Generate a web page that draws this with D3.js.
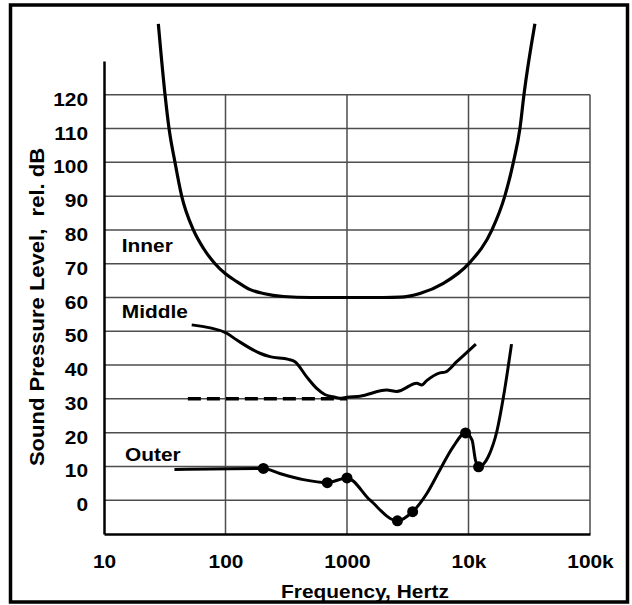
<!DOCTYPE html>
<html>
  <script src="https://d3js.org/d3.v7.min.js" type="text/JavaScript"></script>
  <style>
    body { margin: 0; background: #fff; }
    text { font-family: "Liberation Sans", Arial, sans-serif; font-weight: bold; fill: #000; }
  </style>
  <body>
    <svg></svg>
    <script>
// tick values and labels
var xTicks = [10, 100, 1000, 10000, 100000];
var xTickLabels = ['10', '100', '1000', '10k', '100k'];
var yTicks = [0, 10, 20, 30, 40, 50, 60, 70, 80, 90, 100, 110, 120];
var xGrid = [100, 1000, 10000, 100000];

// curves, [frequency Hz, level dB]
var innerCurve = [[28, 141], [31.8, 120], [34.3, 110], [38.4, 100], [43.6, 90], [54.4, 80],
  [66, 74.5], [82, 70], [100, 67], [124, 64.7], [158, 62.4], [205, 61.2], [300, 60.3],
  [500, 60], [1000, 60], [2000, 60], [2730, 60.1], [3980, 61.2], [6210, 64.2], [10100, 70.1],
  [15600, 80], [19900, 90], [23400, 100], [26500, 110], [28600, 120], [35200, 141]];

var middleCurve = [[52.7, 51.9], [100, 49.6], [124, 47.4], [192, 43.5], [232, 42.5], [330, 41.7],
  [373, 41], [466, 36.5], [563, 33.1], [656, 31.3], [770, 30.6], [875, 30.2], [1000, 30.5],
  [1280, 30.8], [2120, 32.6], [2570, 32.2], [3750, 34.6], [4120, 34.1], [4530, 35.4],
  [5820, 37.7], [6400, 37.9], [8000, 41], [11500, 46.2]];

var middleDashed = [[49, 30], [1000, 30]];

var outerCurve = [[38, 9.1], [205, 9.4], [280, 7.9], [437, 6.1], [688, 5.2], [1000, 6.6],
  [1550, 0], [2600, -6.1], [3470, -3.4], [4540, 2], [5800, 8.9], [7470, 15.8], [9460, 19.9],
  [10700, 17.8], [11400, 11.9], [12100, 9.9], [14500, 12.8], [17200, 20.7], [19400, 30.6],
  [22600, 46.2]];

var outerPoints = [[205, 9.4], [688, 5.2], [1000, 6.6], [2600, -6.1], [3470, -3.4], [9460, 19.9], [12100, 9.9]];

var curveLabels = [['Inner', 14, 73.5], ['Middle', 14, 53.8], ['Outer', 14.9, 11.6]];

var SX = 1.13; // glyphs in the picture are a bit wide

var svg = d3.select('svg').attr('width', 632).attr('height', 605);

var x = d3.scaleLog().domain([10, 100000]).range([104, 590]);
var y = d3.scaleLinear().domain([-10, 130]).range([534, 61]);

svg.append('rect')
  .attr('x', 10.5).attr('y', 5)
  .attr('width', 617).attr('height', 597)
  .style('fill', 'none').style('stroke', '#000').style('stroke-width', 3.5);

// grid
svg.append('g').selectAll('line').data(yTicks).enter().append('line')
  .attr('x1', x(10)).attr('x2', x(100000))
  .attr('y1', d => y(d)).attr('y2', d => y(d))
  .style('stroke', '#4d4d4d').style('stroke-width', 1.5);

svg.append('g').selectAll('line').data(xGrid).enter().append('line')
  .attr('x1', d => x(d)).attr('x2', d => x(d))
  .attr('y1', y(120)).attr('y2', y(-10))
  .style('stroke', '#4d4d4d').style('stroke-width', 1.5);

// axes
var xAxis = svg.append('g')
  .attr('transform', `translate(0, ${y(-10)})`)
  .call(d3.axisBottom(x).tickValues(xTicks).tickFormat((d, i) => xTickLabels[i]).tickSize(0).tickSizeOuter(0));

var yAxis = svg.append('g')
  .attr('transform', `translate(${x(10)}, 0)`)
  .call(d3.axisLeft(y).tickValues(yTicks).tickSize(0).tickSizeOuter(0));

[xAxis, yAxis].forEach(a => {
  a.select('.domain').style('stroke', '#000').style('stroke-width', 2.5);
  a.selectAll('text').style('font-size', '18.5px').style('font-family', null);
});

xAxis.selectAll('.tick text')
  .attr('y', 34.5).attr('dy', null)
  .attr('transform', `scale(${SX},1)`);

yAxis.selectAll('.tick text')
  .attr('x', -16 / SX).attr('dy', 10.5)
  .attr('transform', `scale(${SX},1)`);

// titles
svg.append('text')
  .attr('transform', `translate(365, 597.5) scale(${SX},1)`)
  .attr('text-anchor', 'middle')
  .style('font-size', '18.5px')
  .text('Frequency, Hertz');

svg.append('text')
  .attr('transform', `translate(43.5, 307) rotate(-90) scale(${SX},1)`)
  .attr('text-anchor', 'middle')
  .style('font-size', '19.5px')
  .style('white-space', 'pre')
  .text('Sound Pressure Level,  rel. dB');

// curves
var line = d3.line().x(d => x(d[0])).y(d => y(d[1])).curve(d3.curveMonotoneX);

svg.append('path').datum(innerCurve).attr('d', line)
  .style('fill', 'none').style('stroke', '#000').style('stroke-width', 3.2);

svg.append('path').datum(middleCurve).attr('d', line)
  .style('fill', 'none').style('stroke', '#000').style('stroke-width', 3);

svg.append('path').datum(middleDashed).attr('d', line)
  .style('fill', 'none').style('stroke', '#000').style('stroke-width', 3.5)
  .style('stroke-dasharray', '13,6');

svg.append('path').datum(outerCurve).attr('d', line)
  .style('fill', 'none').style('stroke', '#000').style('stroke-width', 3);

svg.append('g').selectAll('circle').data(outerPoints).enter().append('circle')
  .attr('cx', d => x(d[0])).attr('cy', d => y(d[1]))
  .attr('r', 5.5)
  .style('fill', '#000');

svg.append('g').selectAll('text').data(curveLabels).enter().append('text')
  .attr('transform', d => `translate(${x(d[1])}, ${y(d[2])}) scale(${SX},1)`)
  .style('font-size', '18.5px')
  .text(d => d[0]);
    </script>
  </body>
</html>
